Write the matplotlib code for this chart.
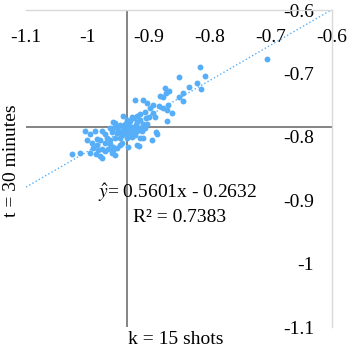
import numpy as np
import matplotlib
matplotlib.use("Agg")
import matplotlib.pyplot as plt

plt.rcParams['font.family'] = ['Liberation Serif', 'DejaVu Serif']
plt.rcParams['mathtext.fontset'] = 'stix'
plt.rcParams['font.size'] = 14

# k = 15 shots (x) vs t = 30 minutes (y)
x = [-0.706, -0.816, -0.808, -0.850, -0.821, -0.834, -0.814, -0.873, -0.866, -0.871,
     -0.843, -0.881, -0.876, -0.850, -0.843, -0.922, -0.909, -0.902, -0.892, -0.883,
     -0.876, -0.870, -0.868, -0.897, -0.892, -0.889, -0.861, -0.906, -0.914, -0.919,
     -0.942, -0.927, -0.924, -0.899, -0.904, -0.870, -0.958, -0.955, -0.935, -0.930,
     -0.919, -0.914, -0.909, -0.902, -0.946, -0.942, -0.963, -0.958, -0.935, -0.927,
     -0.922, -0.914, -0.906, -1.004, -0.987, -0.976, -0.971, -0.995, -0.888, -0.886,
     -0.959, -0.951, -0.946, -0.942, -0.935, -0.930, -0.925, -0.919, -0.914, -0.909,
     -0.894, -0.984, -0.979, -1.000, -0.968, -0.963, -0.955, -0.946, -0.935, -0.927,
     -0.992, -0.984, -0.971, -0.963, -0.958, -0.946, -0.933, -0.919, -0.915, -0.991,
     -0.982, -0.976, -0.971, -0.966, -0.958, -0.951, -0.995, -0.986, -0.979, -0.976,
     -0.959, -0.955, -1.025, -1.012, -0.943, -0.938, -0.932, -0.950, -0.938, -0.928,
     -0.922, -0.943, -0.933, -0.920, -0.910, -0.951]
y = [-0.677, -0.690, -0.704, -0.706, -0.715, -0.721, -0.725, -0.723, -0.728, -0.731,
     -0.731, -0.736, -0.737, -0.737, -0.744, -0.742, -0.742, -0.747, -0.750, -0.751,
     -0.755, -0.758, -0.750, -0.755, -0.762, -0.769, -0.762, -0.761, -0.764, -0.767,
     -0.767, -0.769, -0.770, -0.769, -0.770, -0.775, -0.777, -0.778, -0.774, -0.775,
     -0.777, -0.774, -0.780, -0.780, -0.781, -0.785, -0.786, -0.786, -0.786, -0.785,
     -0.786, -0.786, -0.786, -0.791, -0.791, -0.791, -0.796, -0.796, -0.792, -0.796,
     -0.792, -0.794, -0.792, -0.792, -0.796, -0.794, -0.792, -0.791, -0.802, -0.802,
     -0.805, -0.803, -0.805, -0.805, -0.802, -0.805, -0.802, -0.802, -0.802, -0.800,
     -0.810, -0.813, -0.810, -0.811, -0.816, -0.813, -0.816, -0.813, -0.814, -0.818,
     -0.821, -0.819, -0.822, -0.819, -0.821, -0.818, -0.826, -0.827, -0.830, -0.833,
     -0.826, -0.829, -0.827, -0.826, -0.810, -0.780, -0.783, -0.789, -0.791, -0.789,
     -0.797, -0.797, -0.778, -0.781, -0.791, -0.785]

slope = 0.5601
intercept = -0.2632
r2 = 0.7383
ticks = [-1.1, -1, -0.9, -0.8, -0.7, -0.6]

blue = '#55AEF7'

fig = plt.figure(figsize=(3.54, 3.55), dpi=100)
ax = fig.add_axes([26/354, 1 - 327/355, 306/354, 317/355])

ax.scatter(x, y, s=18, color=blue, linewidths=0, zorder=3)
xl = np.array([-1.1, -0.6])
ax.plot(xl, slope * xl + intercept, ':', color=blue, lw=1.0, zorder=2)

# axes cross near the data means
ax.axvline(-0.935, color='#6f6f6f', lw=1.2, zorder=1)
ax.axhline(-0.785, color='#6f6f6f', lw=1.2, zorder=1)

ax.set_xlim(-1.1, -0.6)
ax.set_ylim(-1.1, -0.6)
ax.set_xticks(ticks)
ax.set_yticks(ticks)
ax.set_xticklabels(['-1.1', '-1', '-0.9', '-0.8', '-0.7', '-0.6'])
ax.set_yticklabels(['-1.1', '-1', '-0.9', '-0.8', '-0.7', '-0.6'])
ax.xaxis.tick_top()
ax.yaxis.tick_right()
ax.tick_params(axis='x', length=0, pad=-26)
ax.tick_params(axis='y', length=0, pad=-13)
for t in ax.get_yticklabels():
    t.set_ha('right')

for s in ['left', 'bottom']:
    ax.spines[s].set_visible(False)
for s in ['top', 'right']:
    ax.spines[s].set_color('#d9d9d9')
    ax.spines[s].set_linewidth(1)

fig.text(176/354, 1 - 340/355, 'k = 15 shots', ha='center', va='center')
fig.text(12/354, 1 - 161/355, 't = 30 minutes', ha='center', va='center', rotation=90)
fig.text(178/354, 1 - 193/355, r'$\hat{y}$= %.4fx - %.4f' % (slope, -intercept),
         ha='center', va='center')
fig.text(180/354, 1 - 217/355, 'R² = %.4f' % r2, ha='center', va='center')

fig.savefig('out.png', dpi=100)
